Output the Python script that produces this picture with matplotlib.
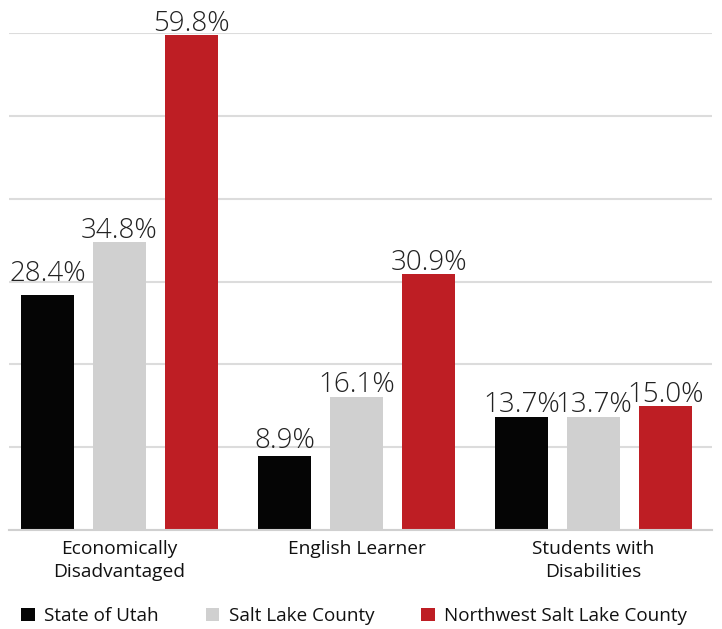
import matplotlib.pyplot as plt
from matplotlib.patches import Patch
import numpy as np

categories = ["Economically\nDisadvantaged", "English Learner", "Students with\nDisabilities"]
series = ["State of Utah", "Salt Lake County", "Northwest Salt Lake County"]
state_of_utah = [28.4, 8.9, 13.7]
salt_lake_county = [34.8, 16.1, 13.7]
northwest_slc = [59.8, 30.9, 15.0]
colors = ["#050505", "#d0d0d0", "#be1e24"]

plt.rcParams['font.family'] = ['Open Sans', 'DejaVu Sans']

fig = plt.figure(figsize=(7.22, 6.29), dpi=100)
ax = fig.add_axes([9 / 722, 1 - 530 / 629, (712 - 9) / 722, (530 - 33) / 629])

# extra lift (in data units) for labels that sit higher above their bars
label_lift = {(0, 0): 1.2, (0, 1): 0.5}

x = np.arange(len(categories))
step = 0.304
width = 0.224
for i, (vals, col) in enumerate(zip([state_of_utah, salt_lake_county, northwest_slc], colors)):
    pos = x + (i - 1) * step
    ax.bar(pos, vals, width=width, color=col, zorder=3)
    for j, (px, v) in enumerate(zip(pos, vals)):
        ax.text(px, v + 0.5 + label_lift.get((i, j), 0), f"{v:.1f}%", ha='center',
                va='baseline', fontsize=20, fontweight='light', color='#222222',
                clip_on=False)

ax.set_ylim(0, 60)
ax.set_xlim(-0.466, 2.5)
ax.set_yticks(np.arange(0, 61, 10))
ax.yaxis.grid(True, color='#dcdcdc', linewidth=1.5, zorder=0)
ax.tick_params(axis='y', left=False, labelleft=False)
ax.tick_params(axis='x', bottom=False, pad=4)
ax.set_xticks(x)
ax.set_xticklabels(categories, fontsize=13.8, color='#111111', linespacing=1.3)
for s in ['top', 'right', 'left']:
    ax.spines[s].set_visible(False)
ax.spines['bottom'].set_color('#d0d0d0')
ax.spines['bottom'].set_linewidth(1.5)
ax.spines['bottom'].set_zorder(4)

handles = [Patch(facecolor=c, edgecolor='none') for c in colors]
fig.legend(handles, series, loc='center left', bbox_to_anchor=(12 / 722, 1 - 616 / 629),
           ncol=3, frameon=False, fontsize=13.6, handlelength=0.7, handleheight=0.7,
           handletextpad=0.5, columnspacing=2.5, borderpad=0, labelcolor='#111111')

fig.savefig("out.png", dpi=100)
